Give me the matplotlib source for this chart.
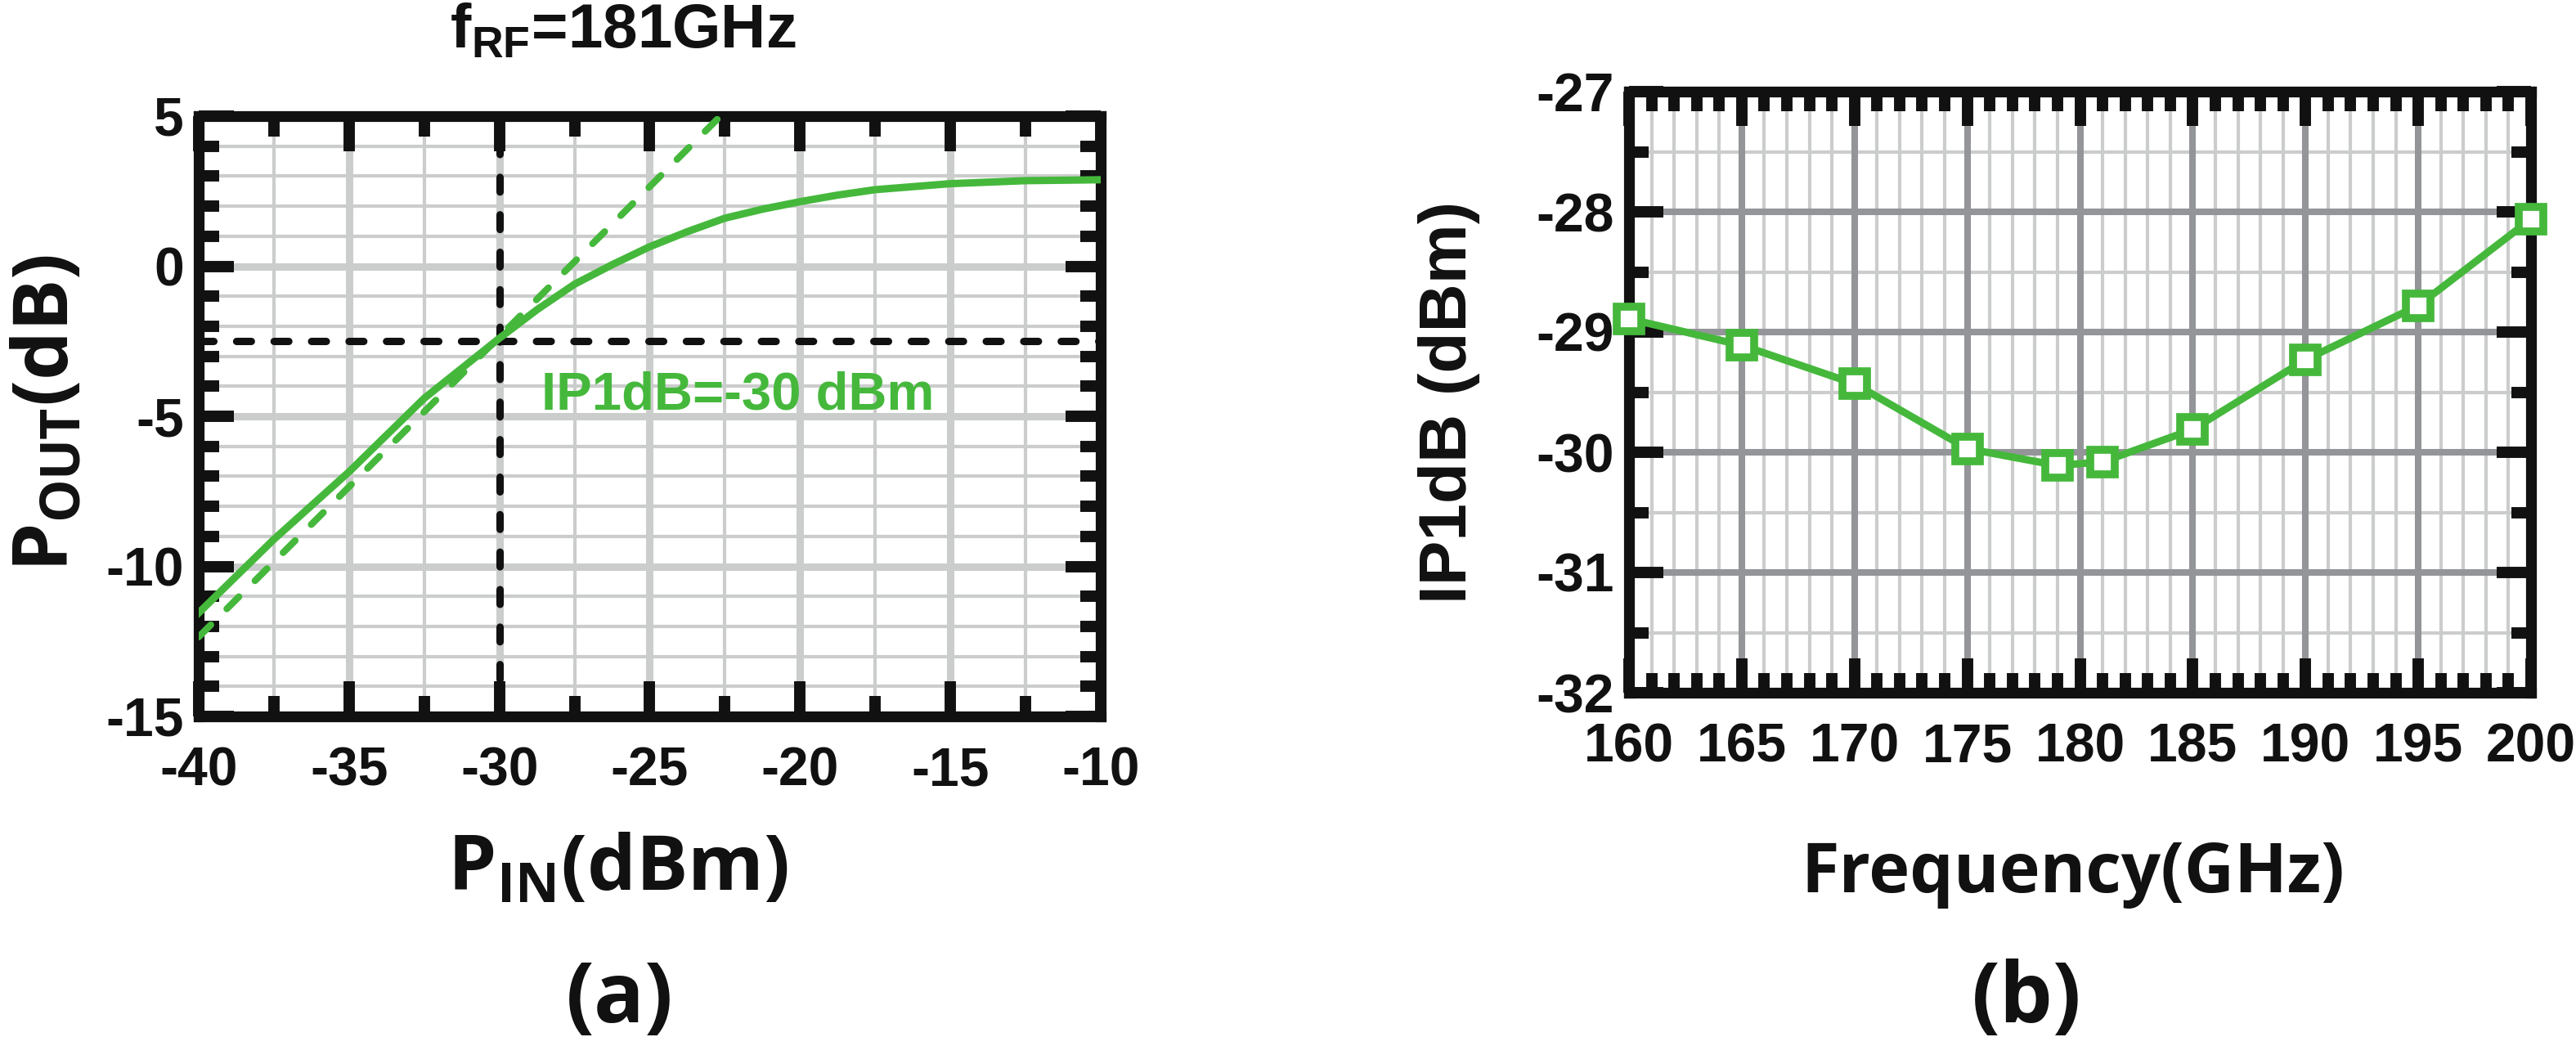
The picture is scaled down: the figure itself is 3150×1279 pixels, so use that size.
import matplotlib
matplotlib.use("Agg")
import matplotlib.pyplot as plt
from matplotlib.ticker import MultipleLocator

# (a) Pout vs Pin at f_RF = 181 GHz
pin = [-40, -37.5, -35, -32.5, -30, -28.75, -27.5, -26.25, -25, -23.75,
       -22.5, -21.25, -20, -18.75, -17.5, -15, -12.5, -10]
pout = [-11.55, -9.1, -6.85, -4.4, -2.4, -1.45, -0.6, 0.05, 0.65, 1.15,
        1.6, 1.9, 2.15, 2.37, 2.55, 2.75, 2.85, 2.88]
lin_pin = [-40, -22.65]          # ideal linear (slope 1) line
lin_pout = [-12.35, 5.0]
ip1db_pin = -30
ip1db_pout = -2.5

# (b) IP1dB vs frequency
freq = [160, 165, 170, 175, 179, 181, 185, 190, 195, 200]
ip1db = [-28.89, -29.11, -29.43, -29.97, -30.11, -30.08, -29.81, -29.23, -28.78, -28.06]

W, H = 3150, 1279
GREEN = '#45b83c'
INK = '#111111'
LIGHT = '#cbcdcc'
DARK = '#939599'

plt.rcParams['font.family'] = ['Liberation Sans', 'DejaVu Sans']
plt.rcParams['font.weight'] = 'bold'
plt.rcParams['axes.unicode_minus'] = False
plt.rcParams['mathtext.fontset'] = 'custom'
plt.rcParams['mathtext.rm'] = 'Liberation Sans:bold'
plt.rcParams['mathtext.sf'] = 'Open Sans:bold'
plt.rcParams['lines.scale_dashes'] = False

fig = plt.figure(figsize=(W / 100, H / 100), dpi=100)


def box(x0, y0, x1, y1):
    # pixel box (spine centres) -> figure fraction
    return [x0 / W, 1 - y1 / H, (x1 - x0) / W, (y1 - y0) / H]


def panel(rect, xlim, ylim, xs, xm, ys, ym, major_col, lw_major, lw_minor, major_len, minor_len):
    layers = [fig.add_axes(rect) for _ in range(3)]
    for a in layers:
        a.set_xlim(xlim)
        a.set_ylim(ylim)
        a.xaxis.set_major_locator(MultipleLocator(xs))
        a.xaxis.set_minor_locator(MultipleLocator(xm))
        a.yaxis.set_major_locator(MultipleLocator(ys))
        a.yaxis.set_minor_locator(MultipleLocator(ym))
    gmin, gmaj, ax = layers
    # grid in separate layers so majors sit over minors and ticks over both
    for g in (gmin, gmaj):
        g.patch.set_visible(False)
        g.tick_params(which='both', length=0, labelbottom=False, labelleft=False)
        for s in g.spines.values():
            s.set_visible(False)
    gmin.patch.set_visible(True)
    gmin.grid(True, which='minor', color=LIGHT, lw=lw_minor)
    gmaj.grid(True, which='major', color=major_col, lw=lw_major)

    ax.patch.set_visible(False)
    ax.set_axisbelow(True)
    for s in ax.spines.values():
        s.set_linewidth(9.5)
        s.set_color(INK)
    ax.tick_params(which='both', direction='in', top=True, right=True,
                   color=INK, width=10, labelsize=47.5, labelcolor=INK)
    ax.tick_params(which='major', length=major_len)
    ax.tick_params(which='minor', length=minor_len)
    ax.tick_params(axis='x', pad=26)
    ax.tick_params(axis='y', pad=13)
    return ax


# ---- (a) ----
ax1 = panel(box(243, 142, 1346, 876), (-40, -10), (-15, 5), 5, 2.5, 5, 1,
            LIGHT, 6.5, 3, 31, 18)
ax1.plot(pin, pout, color=GREEN, lw=6.5, zorder=3, solid_joinstyle='round')
ax1.plot(lin_pin, lin_pout, color=GREEN, lw=6, dashes=(15, 20),
         dash_capstyle='round', zorder=3)
ax1.axhline(ip1db_pout, color=INK, lw=6.5, dashes=(13, 20), dash_capstyle='round', zorder=2)
ax1.axvline(ip1db_pin, color=INK, lw=6.5, dashes=(13, 20), dash_capstyle='round', zorder=2)
ax1.text(-28.6, -4.3, 'IP1dB=-30 dBm', color=GREEN, fontsize=47,
         ha='left', va='center')

# ---- (b) ----
ax2 = panel(box(1992, 112, 3095, 847), (160, 200), (-32, -27), 5, 1, 1, 0.5,
            DARK, 5.8, 3, 30, 17)
ax2.plot(freq, ip1db, color=GREEN, lw=6.5, marker='s', ms=22, mew=7,
         mfc='white', mec=GREEN, clip_on=False, zorder=5)

# ---- labels ----
fig.text(762 / W, 1 - 58 / H, 'f$_{\\mathrm{RF}}$=181GHz', ha='center', va='baseline',
         fontsize=55, color=INK)
fig.text(58 / W, 1 - 505 / H, 'P$_{\\mathsf{OUT}}$(dB)', rotation=90, ha='center',
         va='center', fontsize=68, family='Open Sans', color=INK)
fig.text(755 / W, 1 - 1088 / H, 'P$_{\\mathsf{IN}}$(dBm)', ha='center', va='baseline',
         fontsize=68, family='Open Sans', color=INK)
fig.text(1772 / W, 1 - 492 / H, 'IP1dB (dBm)', rotation=90, ha='center', va='center',
         fontsize=59, color=INK)
fig.text(2535 / W, 1 - 1091 / H, 'Frequency(GHz)', ha='center', va='baseline',
         fontsize=61, family='Open Sans', color=INK)
fig.text(758 / W, 1 - 1250 / H, '(a)', ha='center', va='baseline',
         fontsize=74, family='Open Sans', color=INK)
fig.text(2478 / W, 1 - 1250 / H, '(b)', ha='center', va='baseline',
         fontsize=74, family='Open Sans', color=INK)

fig.savefig('out.png', dpi=100)
